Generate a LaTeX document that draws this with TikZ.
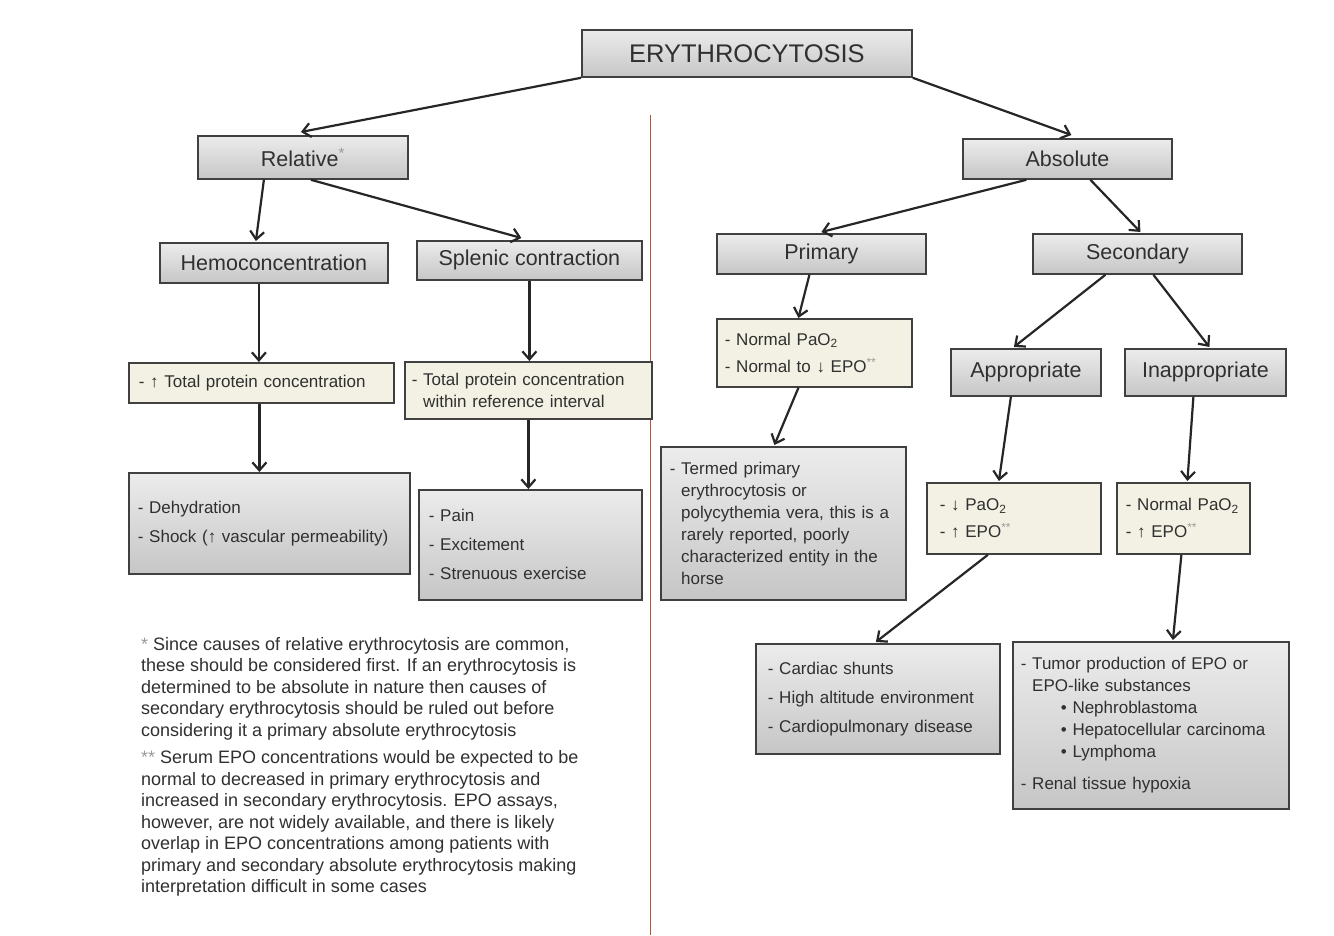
\documentclass[tikz,border=0pt]{standalone}
\usepackage{fontspec}
\setmainfont{Liberation Sans}
\usetikzlibrary{arrows.meta}
\definecolor{txt}{HTML}{303030}
\definecolor{bord}{HTML}{404040}
\definecolor{beige}{HTML}{F3F1E3}
\definecolor{astc}{HTML}{9A9A9A}
\definecolor{redline}{HTML}{B5533C}
\definecolor{gtop}{HTML}{ECECEC}
\definecolor{gbot}{HTML}{C6C6C6}
\newcommand\starmark[1]{\textsuperscript{\color{astc}#1}}
\newcommand\hind{\phantom{- }}
\tikzset{
  greybox/.style={draw=bord, line width=1.8pt, top color=gtop, bottom color=gbot, text=txt},
  beigebox/.style={draw=bord, line width=1.8pt, fill=beige, text=txt},
  headbox/.style={greybox, inner sep=0pt, font=\fontsize{21.5}{26}\selectfont},
  listbox/.style={align=left, inner ysep=0pt, anchor=north west},
  arr/.style={draw=black!85, line width=2.2pt, -{Straight Barb[length=8pt,width=14pt]}},
}
\begin{document}
\begin{tikzpicture}[x=1pt,y=-1pt]
\useasboundingbox[fill=white] (0,0) rectangle (1334,935);
% divider
\draw[redline, line width=1pt] (650,115) -- (650,935);
% headers
\node[headbox, anchor=north west, minimum width=330, minimum height=47, font=\fontsize{25.5}{30}\selectfont] (ery) at (581,29) {ERYTHROCYTOSIS};
\node[headbox, anchor=north west, minimum width=210, minimum height=43] (rel) at (197,135) {Relative\starmark{*}};
\node[headbox, anchor=north west, minimum width=228, minimum height=40] (hemo) at (159,242) {Hemoconcentration};
\node[headbox, anchor=north west, minimum width=225, minimum height=39] (spl) at (416,240) {Splenic contraction};
\node[headbox, anchor=north west, minimum width=209, minimum height=40] (abs) at (962,138) {Absolute};
\node[headbox, anchor=north west, minimum width=209, minimum height=40] (prim) at (716,233) {Primary};
\node[headbox, anchor=north west, minimum width=209, minimum height=40] (sec) at (1032,233) {Secondary};
\node[headbox, anchor=north west, minimum width=150, minimum height=47] (appr) at (950,348) {Appropriate};
\node[headbox, anchor=north west, minimum width=161, minimum height=47] (inap) at (1124,348) {Inappropriate};
% beige boxes
\node[beigebox, listbox, inner xsep=10pt, text width=245, minimum height=40, font=\fontsize{17}{22}\selectfont] (tpc) at (128,362) {- ↑ Total protein concentration};
\node[beigebox, listbox, inner xsep=7pt, text width=233, minimum height=57, font=\fontsize{17}{22}\selectfont] (tpw) at (404,361) {- Total protein concentration\\\hind within reference interval};
\node[beigebox, listbox, inner xsep=8pt, text width=179, minimum height=68, font=\fontsize{17}{27}\selectfont] (npo) at (716,318) {- Normal PaO\textsubscript{2}\\- Normal to ↓ EPO\starmark{**}};
\node[beigebox, listbox, inner xsep=13pt, text width=148, minimum height=71, font=\fontsize{17}{27}\selectfont] (dpo) at (926,482) {- ↓ PaO\textsubscript{2}\\- ↑ EPO\starmark{**}};
\node[beigebox, listbox, inner xsep=9pt, text width=115, minimum height=71, font=\fontsize{17}{27}\selectfont] (npt) at (1116,482) {- Normal PaO\textsubscript{2}\\- ↑ EPO\starmark{**}};
% grey list boxes
\node[greybox, listbox, inner xsep=9pt, text width=263, minimum height=101, font=\fontsize{17}{29}\selectfont] (deh) at (128,472) {- Dehydration\\- Shock (↑ vascular permeability)};
\node[greybox, listbox, inner xsep=10pt, text width=203, minimum height=110, font=\fontsize{17}{29}\selectfont] (pain) at (418,489) {- Pain\\- Excitement\\- Strenuous exercise};
\node[greybox, listbox, inner xsep=9pt, text width=227, minimum height=153, font=\fontsize{17}{22}\selectfont] (term) at (660,446) {- Termed primary\\\hind erythrocytosis or\\\hind polycythemia vera, this is a\\\hind rarely reported, poorly\\\hind characterized entity in the\\\hind horse};
\node[greybox, listbox, inner xsep=12pt, text width=220, minimum height=110, font=\fontsize{17}{29}\selectfont] (card) at (755,643) {- Cardiac shunts\\- High altitude environment\\- Cardiopulmonary disease};
\node[greybox, listbox, inner xsep=8pt, text width=260, minimum height=167, font=\fontsize{17}{22}\selectfont] (tum) at (1012,641) {- Tumor production of EPO or\\\hind EPO-like substances\\\hspace*{40pt}• Nephroblastoma\\\hspace*{40pt}• Hepatocellular carcinoma\\\hspace*{40pt}• Lymphoma\\[10pt]- Renal tissue hypoxia};
% footnotes
\node[anchor=north west, align=left, inner sep=0pt, text=txt, font=\fontsize{18}{21.5}\selectfont] (fn) at (141,637) {%
\textcolor{astc}{*} Since causes of relative erythrocytosis are common,\\
these should be considered first. If an erythrocytosis is\\
determined to be absolute in nature then causes of\\
secondary erythrocytosis should be ruled out before\\
considering it a primary absolute erythrocytosis\\[6pt]
\textcolor{astc}{**} Serum EPO concentrations would be expected to be\\
normal to decreased in primary erythrocytosis and\\
increased in secondary erythrocytosis. EPO assays,\\
however, are not widely available, and there is likely\\
overlap in EPO concentrations among patients with\\
primary and secondary absolute erythrocytosis making\\
interpretation difficult in some cases};
% arrows
\draw[arr] (ery.south west) -- ([xshift=-2pt,yshift=3pt]rel.north);
\draw[arr] (ery.south east) -- ([xshift=4pt,yshift=3pt]abs.north);
\draw[arr] ([xshift=-39pt]rel.south) -- ([xshift=-18pt,yshift=1pt]hemo.north);
\draw[arr] ([xshift=8pt]rel.south) -- ([xshift=-8pt,yshift=2pt]spl.north);
\draw[arr] ([xshift=-15pt]hemo.south) -- ([xshift=-15pt]hemo.south |- tpc.north);
\draw[arr] (spl.south) -- (spl.south |- tpw.north);
\draw[arr] ([xshift=-2pt]tpc.south) -- ([xshift=-2pt]tpc.south |- deh.north);
\draw[arr] (tpw.south) -- (tpw.south |- pain.north);
\draw[arr] ([xshift=-41pt]abs.south) -- ([yshift=1pt]prim.north);
\draw[arr] ([xshift=23pt]abs.south) -- ([xshift=3pt,yshift=1pt]sec.north);
\draw[arr] ([xshift=-12pt]prim.south) -- ([xshift=-16pt]npo.north);
\draw[arr] ([xshift=-16pt]npo.south) -- ([xshift=-9pt,yshift=1pt]term.north);
\draw[arr] ([xshift=-32pt]sec.south) -- ([xshift=-12pt,yshift=1pt]appr.north);
\draw[arr] ([xshift=16pt]sec.south) -- ([xshift=4pt,yshift=1pt]inap.north);
\draw[arr] ([xshift=-15pt]appr.south) -- ([xshift=-15pt,yshift=1pt]dpo.north);
\draw[arr] ([xshift=-12pt]inap.south) -- ([xshift=4pt,yshift=1pt]npt.north);
\draw[arr] ([xshift=-26pt]dpo.south) -- ([xshift=-2pt,yshift=1pt]card.north);
\draw[arr] ([xshift=-2pt]npt.south) -- ([xshift=22pt,yshift=1pt]tum.north);
\end{tikzpicture}
\end{document}
